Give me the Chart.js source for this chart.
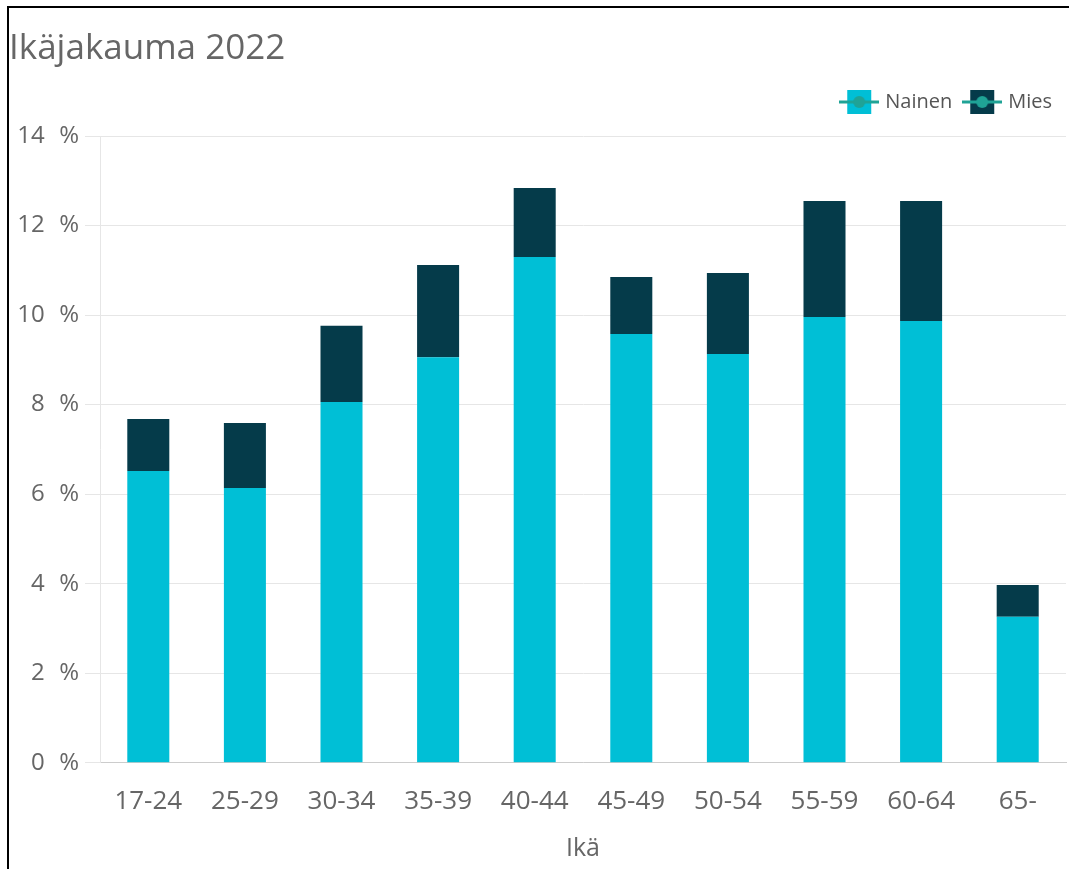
<!DOCTYPE html>
<html lang="fi">
<head>
  <meta charset="UTF-8">
  <title>Ikäjakauma 2022</title>
  <script src="https://cdn.jsdelivr.net/npm/chart.js"></script>
  <style>
    html, body { margin: 0; padding: 0; background: #fff; }
    #frame {
      position: absolute; left: 7px; top: 6px; width: 1062px; height: 863px;
      border-left: 2px solid #000; border-top: 2px solid #000;
    }
    #wrap { position: absolute; left: 0; top: 0; width: 1060px; height: 861px; }
  </style>
</head>
<body>
  <div id="frame"><div id="wrap"><canvas id="ageChart"></canvas></div></div>

  <script>
    const ageGroups = ["17-24", "25-29", "30-34", "35-39", "40-44", "45-49", "50-54", "55-59", "60-64", "65-"]
    const women = [6.52, 6.14, 8.06, 9.06, 11.30, 9.58, 9.13, 9.96, 9.87, 3.26]
    const men = [1.16, 1.45, 1.70, 2.06, 1.54, 1.27, 1.81, 2.59, 2.68, 0.71]
    const yTicks = [0, 2, 4, 6, 8, 10, 12, 14]

    const fontFamily = "'Open Sans', 'Segoe UI', sans-serif"
    const grey = '#666666'

    // legend marker: coloured square with a line and dot through it
    function legendIcon(color) {
      const c = document.createElement('canvas')
      c.width = 40
      c.height = 26
      const g = c.getContext('2d')
      g.fillStyle = color
      g.fillRect(8, 1, 24, 24)
      g.strokeStyle = '#1fa396'
      g.lineWidth = 3
      g.beginPath()
      g.moveTo(0, 13)
      g.lineTo(40, 13)
      g.stroke()
      g.fillStyle = '#1fa396'
      g.beginPath()
      g.arc(20, 13, 6, 0, Math.PI * 2)
      g.fill()
      return c
    }

    // extra room between legend and plot
    const legendMargin = {
      id: 'legendMargin',
      beforeInit(chart) {
        const fit = chart.legend.fit
        chart.legend.fit = function () {
          fit.bind(chart.legend)()
          this.height += 14
        }
      }
    }

    const ctx = document.getElementById('ageChart').getContext('2d')
    new Chart(ctx, {
      type: 'bar',
      data: {
        labels: ageGroups,
        datasets: [
          { label: 'Nainen', data: women, backgroundColor: '#00bfd6', pointStyle: legendIcon('#00bfd6') },
          { label: 'Mies', data: men, backgroundColor: '#053b4a', pointStyle: legendIcon('#053b4a') }
        ]
      },
      plugins: [legendMargin],
      options: {
        responsive: true,
        maintainAspectRatio: false,
        animation: false,
        layout: { padding: { left: 0, right: 3, top: 0, bottom: 1 } },
        datasets: { bar: { categoryPercentage: 1, barPercentage: 0.435 } },
        plugins: {
          title: {
            display: true,
            text: 'Ikäjakauma 2022',
            align: 'start',
            color: grey,
            font: { family: fontFamily, size: 35, weight: 'normal' },
            padding: { top: 20, bottom: 8 }
          },
          legend: {
            position: 'top',
            align: 'end',
            labels: {
              usePointStyle: true,
              pointStyleWidth: 32,
              color: '#555',
              font: { family: fontFamily, size: 20 },
              padding: 14
            }
          },
          tooltip: { enabled: false }
        },
        scales: {
          x: {
            stacked: true,
            grid: { display: false },
            border: { color: '#cccccc' },
            ticks: { color: grey, font: { family: fontFamily, size: 26 }, padding: 15 },
            title: { display: true, text: 'Ikä', color: grey, font: { family: fontFamily, size: 25 }, padding: { top: 2 } }
          },
          y: {
            stacked: true,
            min: 0,
            max: 14,
            afterBuildTicks: axis => { axis.ticks = yTicks.map(v => ({ value: v })) },
            afterFit: axis => { axis.width = 91 },
            grid: { color: '#e6e6e6', tickLength: 15 },
            border: { color: '#e6e6e6' },
            ticks: {
              color: grey,
              font: { family: fontFamily, size: 24 },
              padding: 6,
              callback: v => v + '\u2002\u200a%'
            }
          }
        }
      }
    })
  </script>
</body>
</html>
